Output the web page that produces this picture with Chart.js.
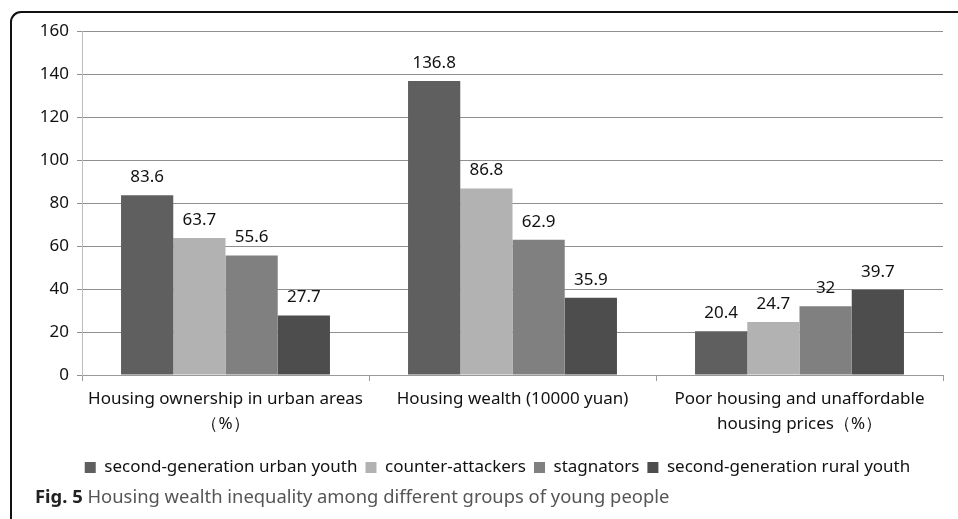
<!DOCTYPE html>
<html>
<head>
<meta charset="utf-8">
<script src="https://cdn.jsdelivr.net/npm/chart.js@4.4.1/dist/chart.umd.min.js"></script>
<style>
  html, body { margin: 0; padding: 0; background: #fff; }
  #wrap { position: relative; width: 958px; height: 519px; overflow: hidden; }
  #frame {
    position: absolute; left: 10px; top: 11px; width: 960px; height: 520px;
    border-top: 2px solid #111; border-left: 2px solid #111;
    border-top-left-radius: 11px; box-sizing: border-box;
  }
  #chartBox { position: absolute; left: 0; top: 0; width: 958px; height: 519px; }
  #caption {
    position: absolute; left: 35px; top: 483px;
    font-family: "Noto Sans", sans-serif; font-size: 18.4px; color: #555;
    white-space: nowrap;
  }
  #caption b { color: #222; }
</style>
</head>
<body>
<div id="wrap">
  <div id="frame"></div>
  <div id="chartBox"><canvas id="myChart" width="958" height="519"></canvas></div>
  <div id="caption"><b>Fig. 5</b> Housing wealth inequality among different groups of young people</div>
</div>
<script>
// данные с картинки
const categories = [
    ["Housing ownership in urban areas", "（%）"],
    ["Housing wealth (10000 yuan)"],
    ["Poor housing and unaffordable", "housing prices（%）"]
];
const seriesNames = [
    "second-generation urban youth",
    "counter-attackers",
    "stagnators",
    "second-generation rural youth"
];
const urbanYouth = [83.6, 136.8, 20.4];
const counterAttackers = [63.7, 86.8, 24.7];
const stagnators = [55.6, 62.9, 32];
const ruralYouth = [27.7, 35.9, 39.7];
const seriesColors = ["#5f5f5f", "#b2b2b2", "#808080", "#4d4d4d"];
const yTicks = [0, 20, 40, 60, 80, 100, 120, 140, 160];

const font = "'Noto Sans', sans-serif";

// подписи над столбцами
const barLabels = {
    id: "barLabels",
    afterDatasetsDraw(chart) {
        const ctx = chart.ctx;
        ctx.save();
        ctx.font = "17px " + font;
        ctx.fillStyle = "#111";
        ctx.textAlign = "center";
        ctx.textBaseline = "alphabetic";
        chart.data.datasets.forEach((ds, i) => {
            chart.getDatasetMeta(i).data.forEach((bar, j) => {
                ctx.fillText(String(ds.data[j]), bar.x, bar.y - 13);
            });
        });
        ctx.restore();
    }
};

// сдвигаем легенду чуть вправо, как в оригинале
const legendShift = {
    id: "legendShift",
    afterLayout(chart) {
        chart.legend.left += 16;
        chart.legend.right += 16;
    }
};

const allSeries = [urbanYouth, counterAttackers, stagnators, ruralYouth];

const chart = new Chart(document.getElementById("myChart").getContext("2d"), {
    type: "bar",
    data: {
        labels: categories,
        datasets: allSeries.map((vals, i) => ({
            label: seriesNames[i],
            data: vals,
            backgroundColor: seriesColors[i],
            borderWidth: 0,
            categoryPercentage: 0.728,
            barPercentage: 1.0
        }))
    },
    options: {
        responsive: false,
        animation: false,
        events: [],
        layout: { padding: { left: 20, right: 15, top: 31, bottom: 33 } },
        plugins: {
            tooltip: { enabled: false },
            legend: {
                position: "bottom",
                labels: {
                    font: { family: font, size: 17 },
                    color: "#111",
                    boxWidth: 11,
                    boxHeight: 11,
                    padding: 8
                }
            }
        },
        scales: {
            x: {
                grid: {
                    offset: true,
                    drawOnChartArea: false,
                    drawTicks: true,
                    tickLength: 6,
                    color: "#9a9a9a"
                },
                border: { color: "#9a9a9a" },
                ticks: {
                    font: { family: font, size: 17, lineHeight: 1.45 },
                    color: "#111",
                    maxRotation: 0,
                    padding: 6
                },
                afterFit: s => { s.height = 76; }
            },
            y: {
                min: 0,
                max: 160,
                afterBuildTicks: s => { s.ticks = yTicks.map(v => ({ value: v })); },
                grid: { color: "#8f8f8f", tickLength: 5 },
                border: { color: "#bdbdbd" },
                ticks: {
                    font: { family: font, size: 17 },
                    color: "#111",
                    padding: 8
                },
                afterFit: s => { s.width = 62; }
            }
        }
    },
    plugins: [barLabels, legendShift]
});
</script>
</body>
</html>
